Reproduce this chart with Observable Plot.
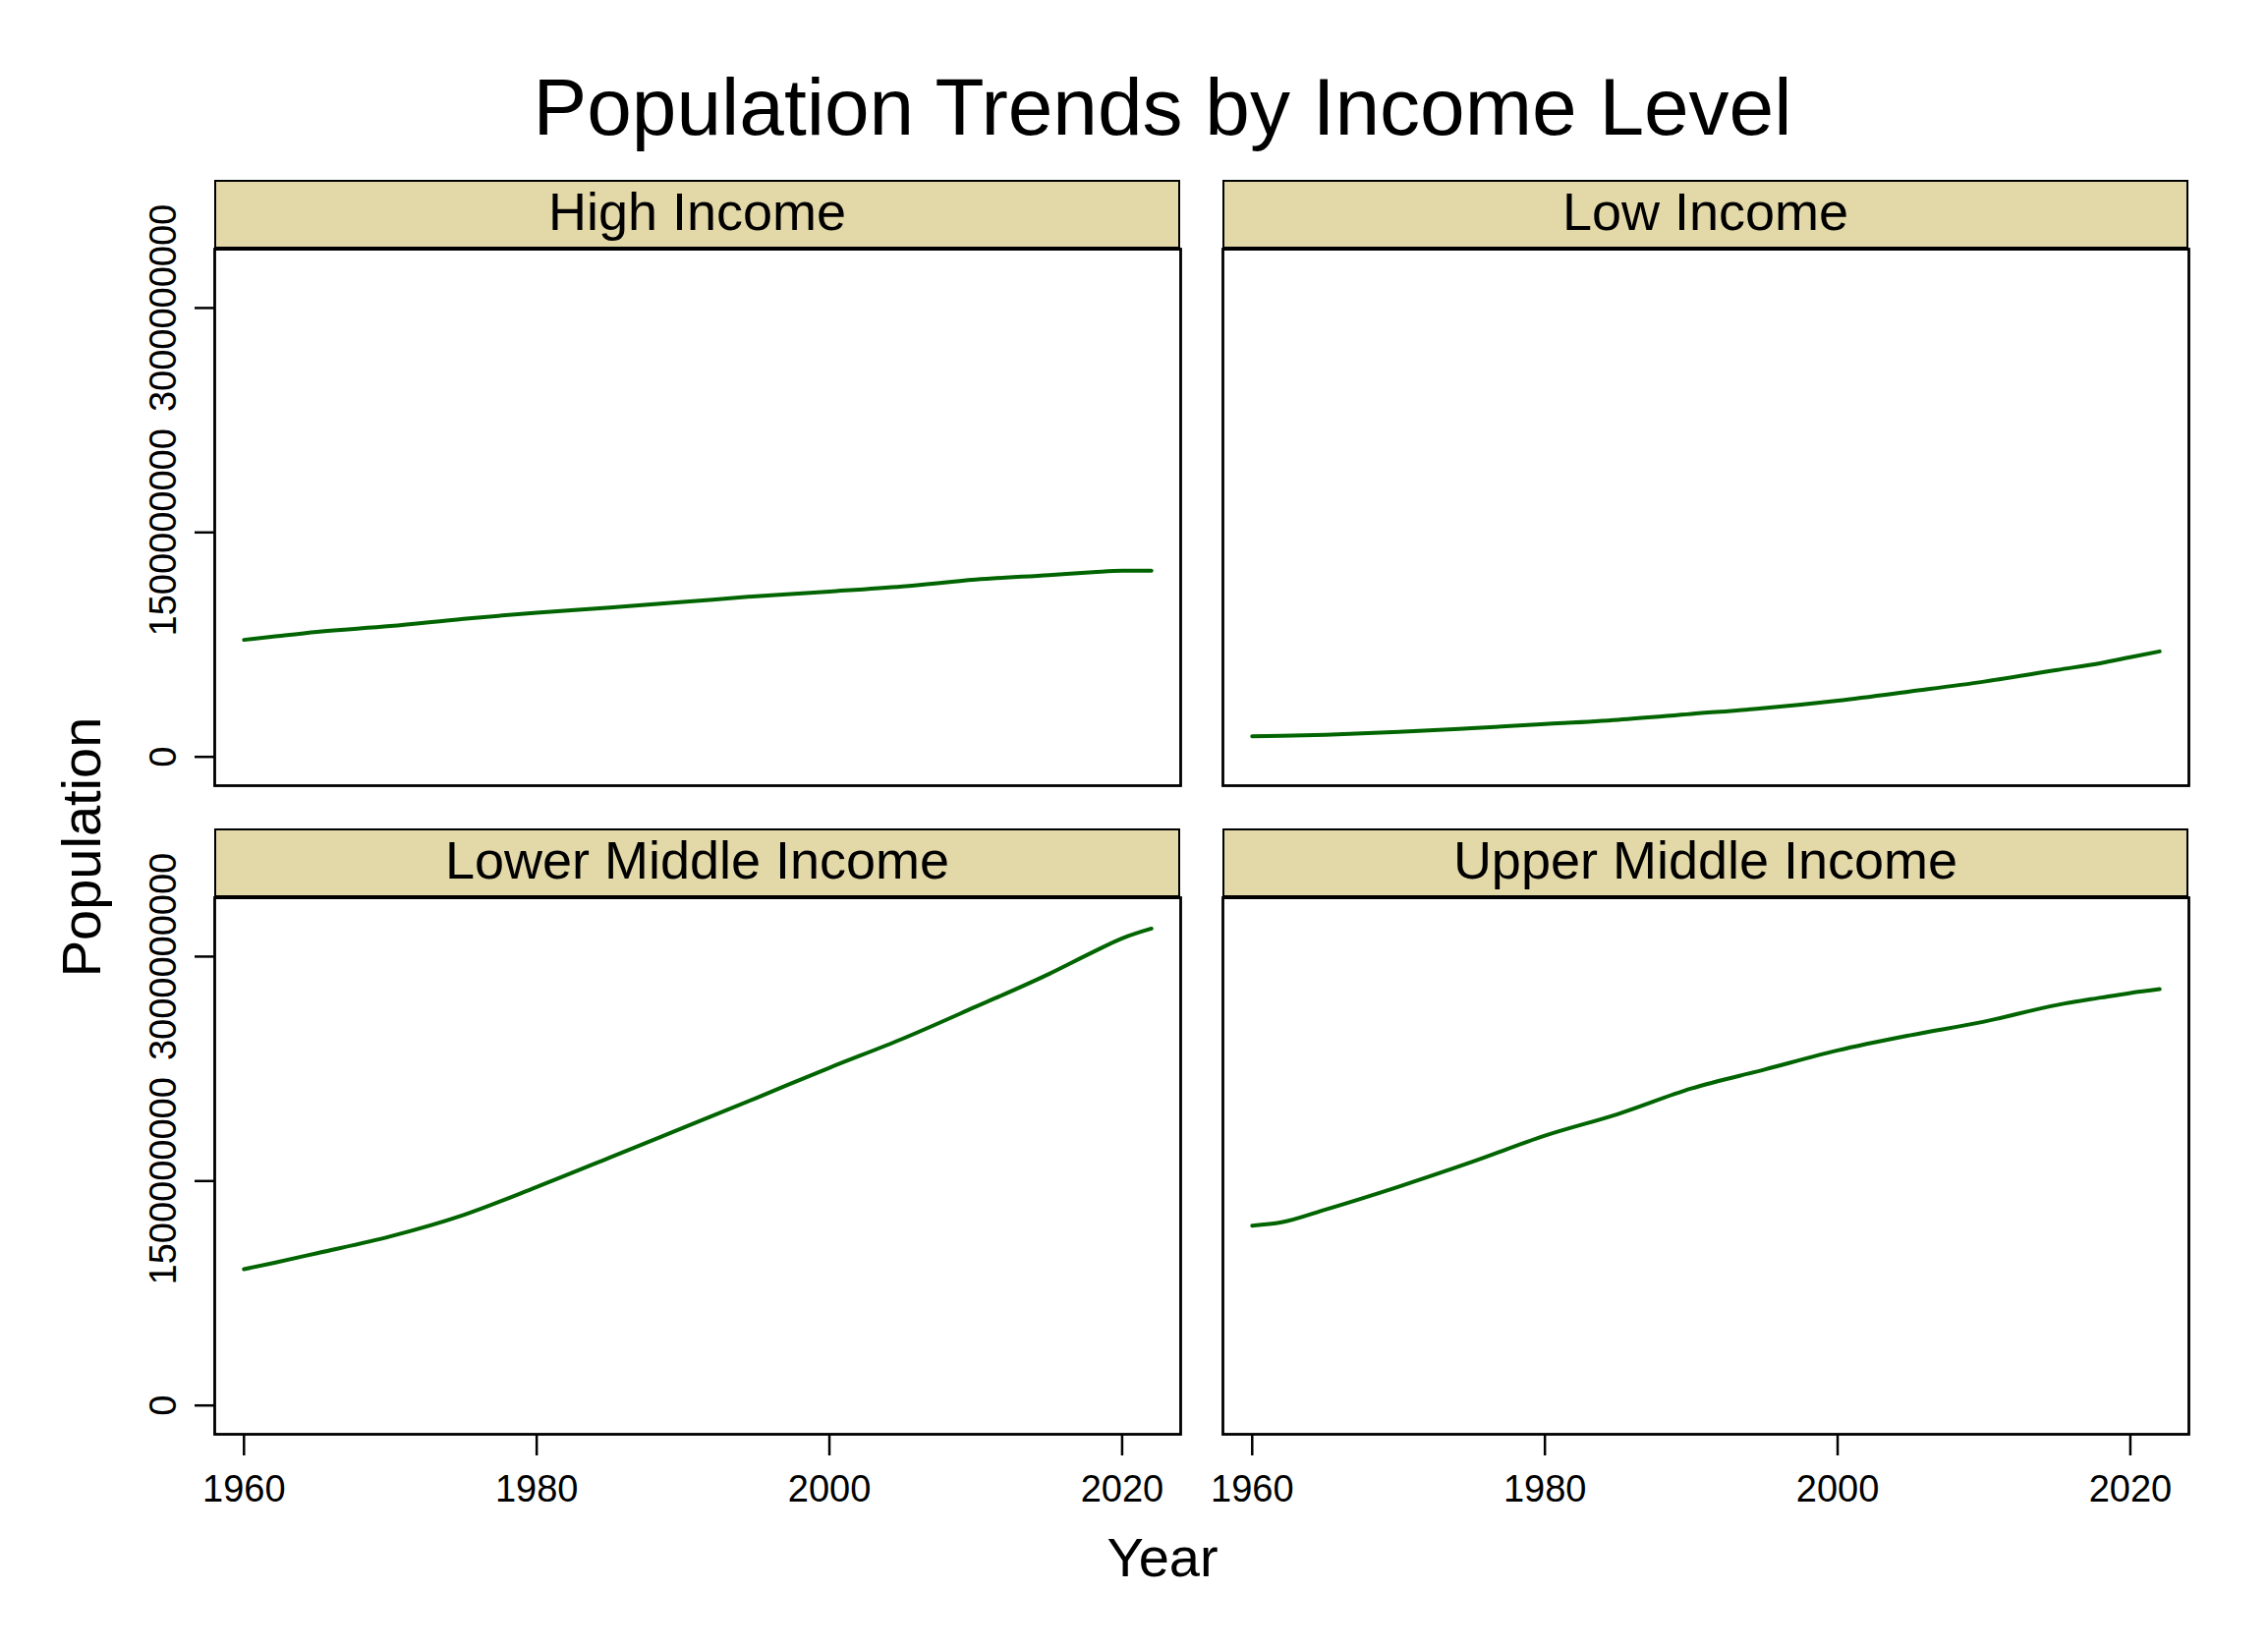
<!DOCTYPE html>
<html><head><meta charset="utf-8">
<script src="https://cdn.jsdelivr.net/npm/d3@7"></script>
<script src="https://cdn.jsdelivr.net/npm/@observablehq/plot@0.6"></script>
<style>
html,body{margin:0;padding:0;background:#fff;}
#chart{position:relative;width:2308px;height:1678px;font-family:"Liberation Sans",Arial,Helvetica,sans-serif;color:#000;overflow:hidden;background:#fff}
.abs{position:absolute;white-space:nowrap;line-height:1}
.strip{position:absolute;box-sizing:border-box;background:#e3d8a7;border:2.5px solid #000;border-bottom-width:4px;}
svg{position:absolute;overflow:visible}
</style></head><body><div id="chart"></div>
<script>
// ---- data ----
const years = [1960, 1962, 1965, 1970, 1975, 1980, 1985, 1990, 1995, 2000, 2005, 2010, 2015, 2018, 2020, 2022];
const highIncome        = [782e6, 804e6, 836e6, 874e6, 923e6, 964e6, 998e6, 1035e6, 1074e6, 1105e6, 1139e6, 1185e6, 1215e6, 1234e6, 1244e6, 1244e6];
const lowIncome         = [138e6, 141e6, 148e6, 167e6, 192e6, 219e6, 248e6, 287e6, 326e6, 376e6, 438e6, 503e6, 581e6, 627e6, 666e6, 705e6];
const lowerMiddleIncome = [911e6, 952e6, 1018e6, 1130e6, 1273e6, 1460e6, 1657e6, 1856e6, 2055e6, 2257e6, 2451e6, 2665e6, 2884e6, 3030e6, 3122e6, 3187e6];
const upperMiddleIncome = [1202e6, 1224e6, 1309e6, 1462e6, 1627e6, 1803e6, 1948e6, 2118e6, 2245e6, 2373e6, 2475e6, 2565e6, 2677e6, 2726e6, 2757e6, 2782e6];
const categories = ["High Income", "Low Income", "Lower Middle Income", "Upper Middle Income"];
const yTicks = [0, 1500000000, 3000000000];
const xTicks = [1960, 1980, 2000, 2020];
const titleText = "Population Trends by Income Level";
const xLabel = "Year";
const yLabel = "Population";

const series = [highIncome, lowIncome, lowerMiddleIncome, upperMiddleIncome];
const table = categories.flatMap((c, i) => years.map((y, j) => ({category: c, year: y, population: series[i][j]})));

// ---- layout ----
const chart = document.getElementById("chart");
const FONT = '"Liberation Sans", Arial, Helvetica, sans-serif';
const colX = [218, 1244];
const panelW = 983, panelH = 546, stripH = 70;
const stripTop = [183, 843];
const xDomain = [1958, 2024];
const yDomain = [-192500000, 3393500000];

function addDiv(text, css) {
  const d = document.createElement("div");
  d.className = "abs";
  d.textContent = text;
  Object.assign(d.style, css);
  chart.appendChild(d);
  return d;
}

addDiv(titleText, {left: "1183px", top: "67.6px", fontSize: "82px", transform: "translateX(-50%)"});
addDiv(xLabel, {left: "1183px", top: "1556.6px", fontSize: "56px", transform: "translateX(-50%)"});
addDiv(yLabel, {left: "82.6px", top: "862px", fontSize: "56px", transform: "translate(-50%,-50%) rotate(-90deg)"});

categories.forEach((cat, i) => {
  const r = Math.floor(i / 2), c = i % 2;
  const pTop = stripTop[r] + stripH;
  // strip
  const s = document.createElement("div");
  s.className = "strip";
  Object.assign(s.style, {left: colX[c] + "px", top: stripTop[r] + "px", width: panelW + "px", height: (stripH + 2) + "px"});
  chart.appendChild(s);
  addDiv(cat, {left: (colX[c] + panelW / 2) + "px", top: (pTop - 19.4 - 45.7) + "px", fontSize: "54px", transform: "translateX(-50%)"});

  const mL = c === 0 ? 110 : 4, mR = 4, mT = 4, mB = r === 1 ? 90 : 4;
  const marks = [
    Plot.line(table.filter(d => d.category === cat), {x: "year", y: "population", stroke: "#006400", strokeWidth: 4, curve: "monotone-x"}),
    Plot.frame({stroke: "#000", strokeWidth: 2.8})
  ];
  if (c === 0) {
    marks.push(Plot.axisY(yTicks, {anchor: "left", tickSize: 20, tickFormat: () => "", strokeWidth: 2.5, label: null}));
    marks.push(Plot.text(yTicks, {y: d => d, text: d => String(d), frameAnchor: "left", rotate: -90, textAnchor: "middle", lineAnchor: "bottom", dx: -40, fontSize: 38, fill: "#000"}));
  }
  if (r === 1) {
    marks.push(Plot.axisX(xTicks, {anchor: "bottom", tickSize: 22, tickPadding: 20, tickFormat: d => String(d), fontSize: 38, strokeWidth: 2.5, label: null}));
  }
  const svg = Plot.plot({
    width: panelW + mL + mR,
    height: panelH + mT + mB,
    marginLeft: mL, marginRight: mR, marginTop: mT, marginBottom: mB,
    style: {fontFamily: FONT, fontSize: "38px", color: "#000", background: "transparent", overflow: "visible"},
    x: {domain: xDomain, ...(r === 1 ? {} : {axis: null})},
    y: {domain: yDomain, ...(c === 0 ? {} : {axis: null})},
    marks
  });
  svg.style.left = (colX[c] - mL) + "px";
  svg.style.top = (pTop - mT) + "px";
  svg.style.position = "absolute";
  chart.appendChild(svg);
});
</script></body></html>
